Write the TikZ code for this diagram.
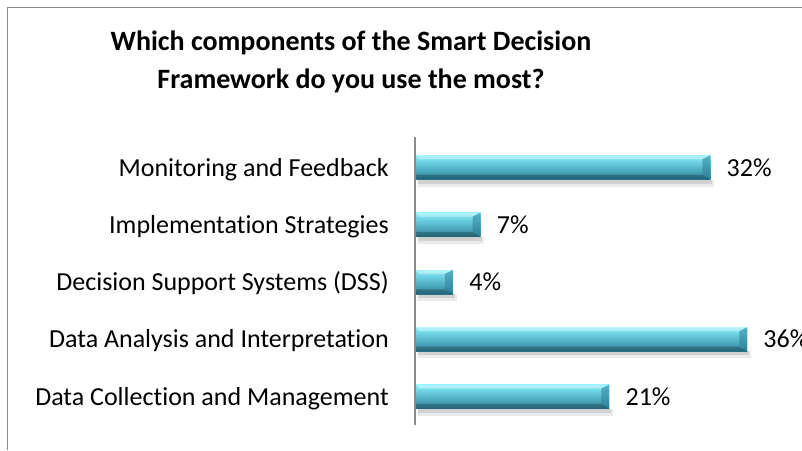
\documentclass[tikz,border=0pt]{standalone}
\usepackage{fontspec}
\setmainfont{Carlito}[Ligatures=NoCommon]
\usetikzlibrary{calc}
\definecolor{framegray}{HTML}{8C8C8C}
\definecolor{bartop}{HTML}{86EEFC}
\definecolor{barmid}{HTML}{4CB9D5}
\definecolor{barbot}{HTML}{2C8099}
\newcommand\mybar[3]{%
  \pgfmathsetmacro\barw{9.19*#3}%
  \fill[black!8] (418,#2+12) rectangle (416+\barw+4,#2+19);
  \fill[black!18] (418,#2+12) rectangle (416+\barw+2,#2+16);
  \node[barnode, minimum width=\barw pt, anchor=west] (#1) at (416,#2) {};
  \fill[white,opacity=0.35] (#1.north west) -- (#1.north east) -- ($(#1.north east)+(-8,4)$) -- ($(#1.north west)+(3,4)$) -- cycle;
  \fill[barbot,opacity=0.55] (#1.north east) -- (#1.south east) -- ($(#1.south east)+(-8,-5)$) -- ($(#1.north east)+(-8,4)$) -- cycle;
  \fill[black,opacity=0.22] (#1.south west) -- (#1.south east) -- ($(#1.south east)+(-8,-5)$) -- ($(#1.south west)+(0,-5)$) -- cycle;
  \node[pctlabel, anchor=base west] (#1v) at ($(#1.east)+(16,8.5)$) {#3\%};
}
\begin{document}
\begin{tikzpicture}[x=1pt,y=-1pt,
  barnode/.style={rectangle, inner sep=0pt, minimum height=24pt, draw=none,
    top color=bartop, middle color=barmid, bottom color=barbot},
  pctlabel/.style={inner sep=0pt, font=\fontsize{26}{30}\selectfont, text=black},
  catlabel/.style={inner sep=0pt, anchor=base east, font=\fontsize{26}{30}\selectfont, text=black},
  titletext/.style={inner sep=0pt, anchor=base, font=\bfseries\fontsize{28}{38}\selectfont, text=black},
  framed/.style={draw=framegray, line width=1.3pt}]
\useasboundingbox (0,0) rectangle (802,450);
\clip (0,0) rectangle (802,450);
\fill[white] (0,0) rectangle (802,450);
% chart frame
\coordinate (fbl) at (7.5,450);
\coordinate (ftl) at (7.5,7.5);
\coordinate (ftr) at (802,7.5);
\draw[framed] (fbl) -- (ftl) -- (ftr);
% title
\node[titletext] (title1) at (351,50) {Which components of the Smart Decision};
\node[titletext] (title2) at (351,88) {Framework do you use the most?};
% axis
\coordinate (axtop) at (415,137);
\coordinate (axbot) at (415,425);
\draw[draw=framegray, line width=1.2pt] (axtop) -- (axbot);
% bars
\mybar{b1}{167.5}{32}
\mybar{b2}{224.8}{7}
\mybar{b3}{282.1}{4}
\mybar{b4}{339.4}{36}
\mybar{b5}{396.7}{21}
% category labels
\node[catlabel] (c1) at (389,176) {Monitoring and Feedback};
\node[catlabel] (c2) at (389,233.3) {Implementation Strategies};
\node[catlabel] (c3) at (389,290.6) {Decision Support Systems (DSS)};
\node[catlabel] (c4) at (389,347.9) {Data Analysis and Interpretation};
\node[catlabel] (c5) at (389,405.2) {Data Collection and Management};
\end{tikzpicture}
\end{document}
